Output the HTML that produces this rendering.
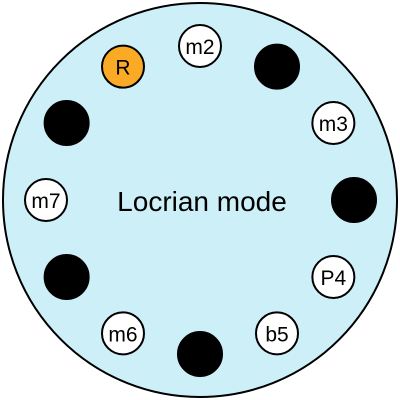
<!DOCTYPE html>
<html><head><meta charset="utf-8"><style>
html,body{margin:0;padding:0;background:#fff;width:400px;height:400px;overflow:hidden}
svg text{font-family:"Liberation Sans",sans-serif}
</style></head><body>
<svg id="c" width="400" height="400">
<circle cx="200" cy="200" r="197" fill="#cdf0f8" stroke="#000" stroke-width="2"/>
<text x="202" y="211" font-size="28" text-anchor="middle" fill="#000">Locrian mode</text>
</svg>
<script>
const labels=["R","m2","","m3","","P4","b5","","m6","","m7",""];
const kinds=["root","note","off","note","off","note","note","off","note","off","note","off"];
const svg=document.getElementById('c');
const NS="http://www.w3.org/2000/svg";
labels.forEach((lab,i)=>{
  const a=(-120+i*30)*Math.PI/180;
  const x=200+154*Math.cos(a), y=200+154*Math.sin(a);
  const g=document.createElementNS(NS,'g');
  
  
  const c=document.createElementNS(NS,'circle');
  
  
  c.setAttribute('cx',x);c.setAttribute('cy',y);
  c.setAttribute('r',kinds[i]==='off'?22:21);
  c.setAttribute('fill',kinds[i]==='root'?'#fbaa25':kinds[i]==='off'?'#000':'#fff');
  c.setAttribute('stroke','#000');c.setAttribute('stroke-width','2');
  g.appendChild(c);
  if(lab){
    const t=document.createElementNS(NS,'text');
    
    
    t.setAttribute('x',x);t.setAttribute('y',y+8);
    t.setAttribute('text-anchor','middle');t.setAttribute('font-size','21');
    t.textContent=lab;g.appendChild(t);
  }
  svg.appendChild(g);
});
</script>
</body></html>
